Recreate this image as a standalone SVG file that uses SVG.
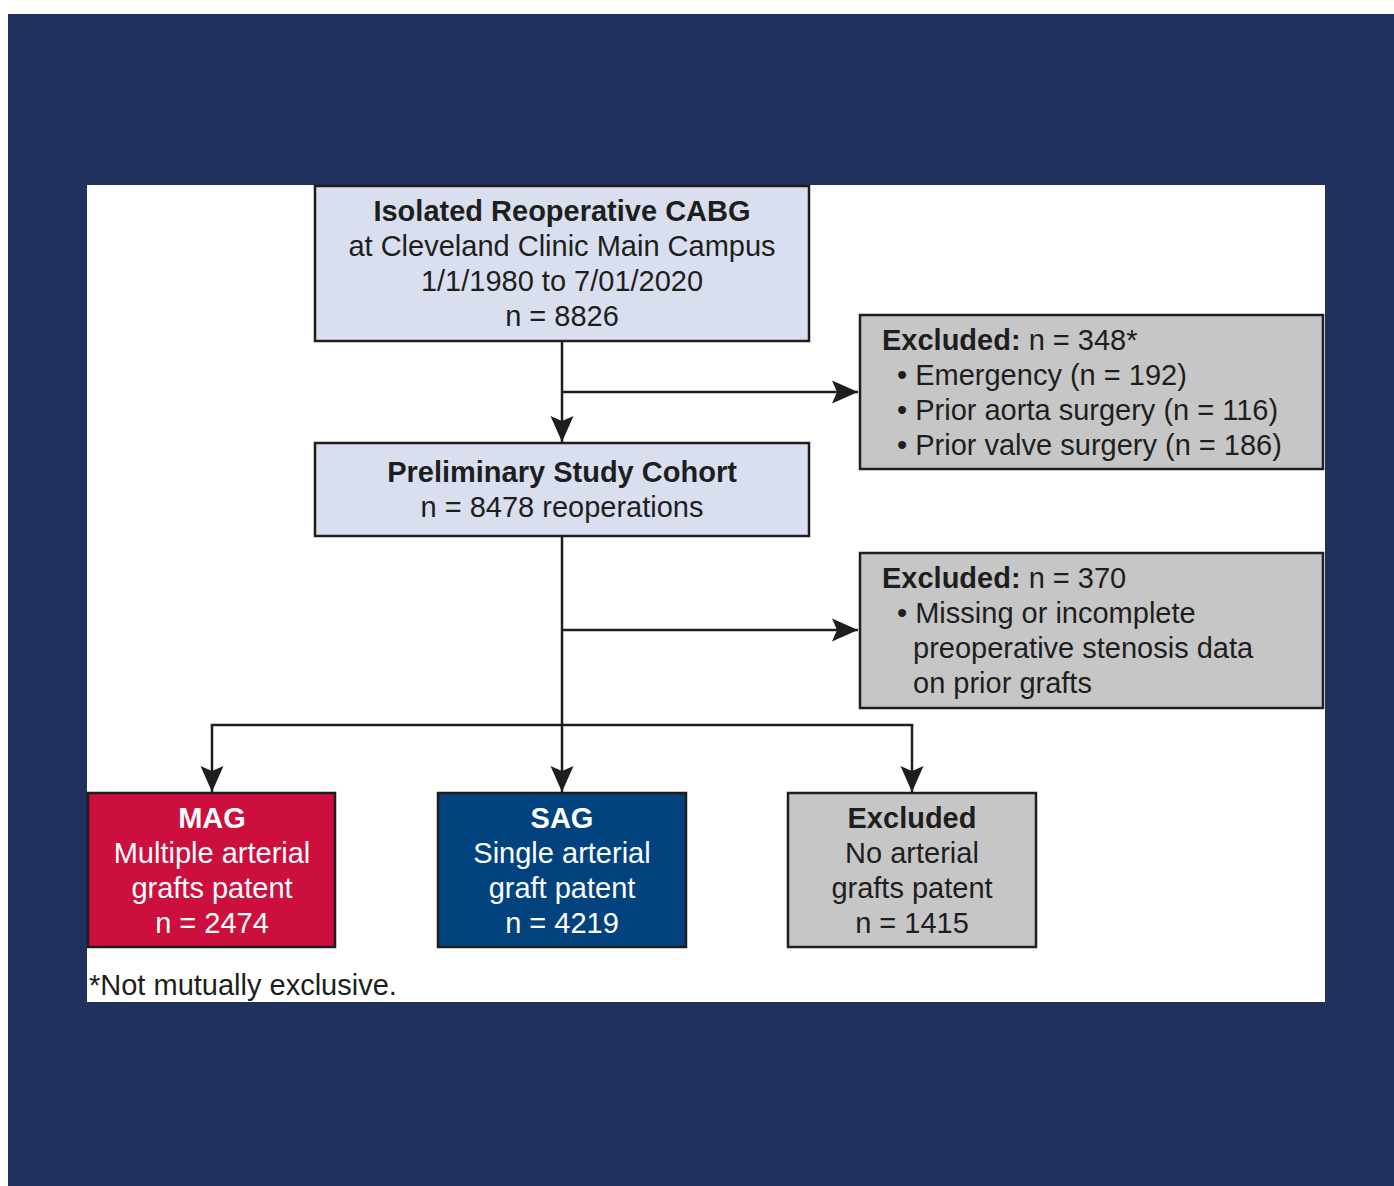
<svg xmlns="http://www.w3.org/2000/svg" width="1394" height="1186" viewBox="0 0 1394 1186">
<style>
text{font-family:"Liberation Sans",Arial,Helvetica,sans-serif;font-size:29px;fill:#1e1e1e}
.b{font-weight:bold}
.c{text-anchor:middle}
.w{fill:#ffffff}
.box{stroke:#1e1e1e;stroke-width:2.5}
.lt{fill:#d9dfef}
.gr{fill:#c6c6c6}
.red{fill:#cc0f3d}
.blu{fill:#02437f}
.ln{fill:none;stroke:#1e1e1e;stroke-width:2.5}
</style>
<defs>
<marker id="ah" markerUnits="userSpaceOnUse" markerWidth="30" markerHeight="26" viewBox="-28 -13 30 26" refX="0" refY="0" orient="auto">
<path d="M0,0 L-26,-11.5 L-21,0 L-26,11.5 Z" fill="#1e1e1e"/>
</marker>
</defs>
<rect x="0" y="0" width="1394" height="1186" fill="#ffffff"/>
<rect x="8" y="14" width="1386" height="1172" fill="#1f315c"/>
<rect x="87" y="185" width="1238" height="817" fill="#ffffff"/>
<g id="connectors">
<line class="ln" x1="562" y1="341" x2="562" y2="442" marker-end="url(#ah)"/>
<line class="ln" x1="562" y1="392" x2="858" y2="392" marker-end="url(#ah)"/>
<line class="ln" x1="562" y1="536" x2="562" y2="792" marker-end="url(#ah)"/>
<line class="ln" x1="562" y1="630" x2="858" y2="630" marker-end="url(#ah)"/>
<line class="ln" x1="210.75" y1="725" x2="913.25" y2="725"/>
<line class="ln" x1="212" y1="725" x2="212" y2="792" marker-end="url(#ah)"/>
<line class="ln" x1="912" y1="725" x2="912" y2="792" marker-end="url(#ah)"/>
</g>
<g id="n-top">
<rect class="box lt" x="315" y="186" width="494" height="155"/>
<text class="b c" x="562" y="221">Isolated Reoperative CABG</text>
<text class="c" x="562" y="256">at Cleveland Clinic Main Campus</text>
<text class="c" x="562" y="291">1/1/1980 to 7/01/2020</text>
<text class="c" x="562" y="326">n = 8826</text>
</g>
<g id="n-excl1">
<rect class="box gr" x="860" y="315" width="463" height="154"/>
<text x="882" y="350"><tspan class="b">Excluded:</tspan> n = 348*</text>
<text x="897" y="385">• Emergency (n = 192)</text>
<text x="897" y="420">• Prior aorta surgery (n = 116)</text>
<text x="897" y="455">• Prior valve surgery (n = 186)</text>
</g>
<g id="n-prelim">
<rect class="box lt" x="315" y="443" width="494" height="93"/>
<text class="b c" x="562" y="482">Preliminary Study Cohort</text>
<text class="c" x="562" y="517">n = 8478 reoperations</text>
</g>
<g id="n-excl2">
<rect class="box gr" x="860" y="553" width="463" height="155"/>
<text x="882" y="588"><tspan class="b">Excluded:</tspan> n = 370</text>
<text x="897" y="623">• Missing or incomplete</text>
<text x="913" y="658">preoperative stenosis data</text>
<text x="913" y="693">on prior grafts</text>
</g>
<g id="n-mag">
<rect class="box red" x="88" y="793" width="247" height="154"/>
<text class="b c w" x="212" y="828">MAG</text>
<text class="c w" x="212" y="863">Multiple arterial</text>
<text class="c w" x="212" y="898">grafts patent</text>
<text class="c w" x="212" y="933">n = 2474</text>
</g>
<g id="n-sag">
<rect class="box blu" x="438" y="793" width="248" height="154"/>
<text class="b c w" x="562" y="828">SAG</text>
<text class="c w" x="562" y="863">Single arterial</text>
<text class="c w" x="562" y="898">graft patent</text>
<text class="c w" x="562" y="933">n = 4219</text>
</g>
<g id="n-excl3">
<rect class="box gr" x="788" y="793" width="248" height="154"/>
<text class="b c" x="912" y="828">Excluded</text>
<text class="c" x="912" y="863">No arterial</text>
<text class="c" x="912" y="898">grafts patent</text>
<text class="c" x="912" y="933">n = 1415</text>
</g>
<text x="89" y="995">*Not mutually exclusive.</text>
</svg>
